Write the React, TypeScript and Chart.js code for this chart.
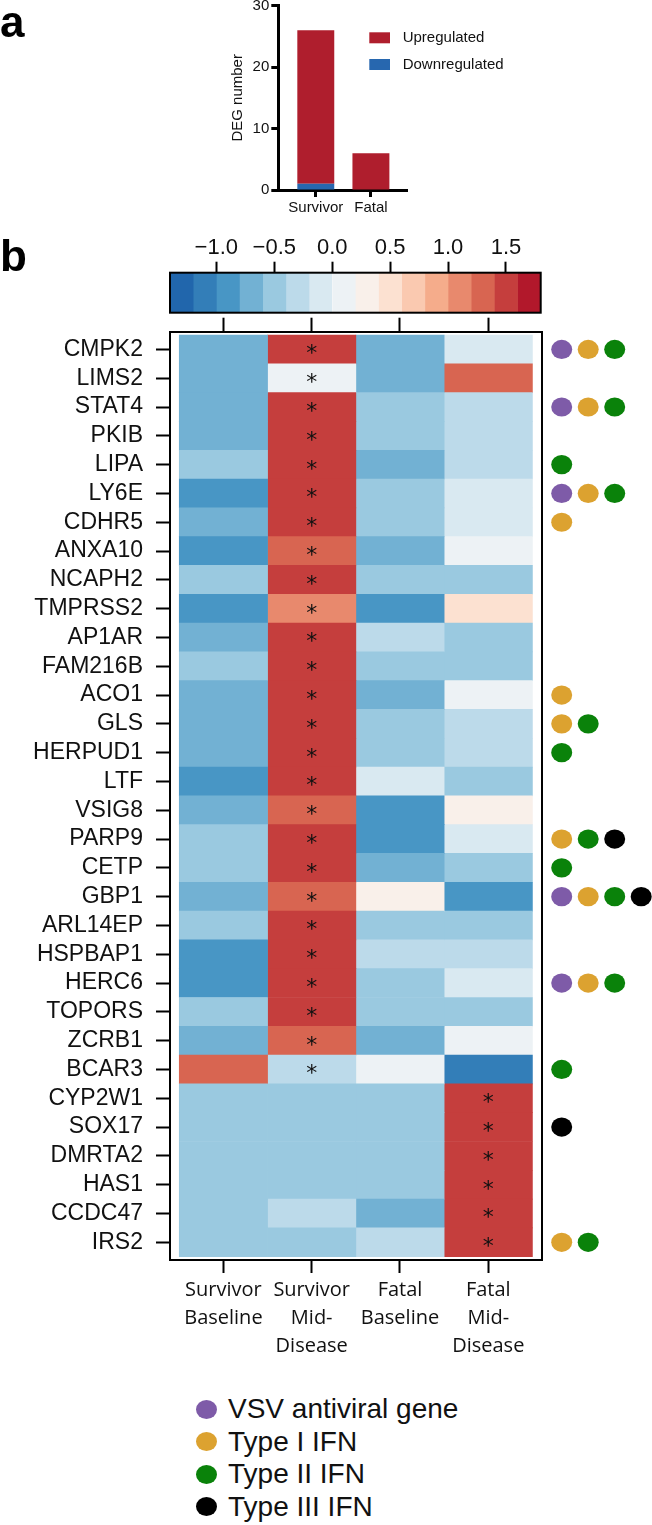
import React, { useEffect, useRef } from 'react';
import { Chart, registerables } from 'chart.js';

Chart.register(...registerables);

// ---------- Panel a data ----------
const degGroups = ['Survivor', 'Fatal'];
const degPositions = [1, 2];
const degUpregulated = [25, 6];
const degDownregulated = [1, 0];
const degTicks = [0, 10, 20, 30];

// ---------- Panel b data ----------
const genes = [
  'CMPK2', 'LIMS2', 'STAT4', 'PKIB', 'LIPA', 'LY6E', 'CDHR5', 'ANXA10',
  'NCAPH2', 'TMPRSS2', 'AP1AR', 'FAM216B', 'ACO1', 'GLS', 'HERPUD1', 'LTF',
  'VSIG8', 'PARP9', 'CETP', 'GBP1', 'ARL14EP', 'HSPBAP1', 'HERC6', 'TOPORS',
  'ZCRB1', 'BCAR3', 'CYP2W1', 'SOX17', 'DMRTA2', 'HAS1', 'CCDC47', 'IRS2',
];

const columnNames = [
  ['Survivor', 'Baseline'],
  ['Survivor', 'Mid-', 'Disease'],
  ['Fatal', 'Baseline'],
  ['Fatal', 'Mid-', 'Disease'],
];

const survivorBaseline = [
  -0.7, -0.7, -0.7, -0.7, -0.5, -0.9, -0.7, -0.9, -0.5, -0.9, -0.7, -0.5, -0.7, -0.7, -0.7, -0.9,
  -0.7, -0.5, -0.5, -0.7, -0.5, -0.9, -0.9, -0.5, -0.7, 1.3, -0.5, -0.5, -0.5, -0.5, -0.5, -0.5,
];
const survivorMidDisease = [
  1.5, 0.1, 1.5, 1.5, 1.5, 1.5, 1.5, 1.3, 1.5, 1.1, 1.5, 1.5, 1.5, 1.5, 1.5, 1.5,
  1.3, 1.5, 1.5, 1.3, 1.5, 1.5, 1.5, 1.5, 1.3, -0.3, -0.5, -0.5, -0.5, -0.5, -0.3, -0.5,
];
const fatalBaseline = [
  -0.7, -0.7, -0.5, -0.5, -0.7, -0.5, -0.5, -0.7, -0.5, -0.9, -0.3, -0.5, -0.7, -0.5, -0.5, -0.1,
  -0.9, -0.9, -0.7, 0.3, -0.5, -0.3, -0.5, -0.5, -0.7, 0.1, -0.5, -0.5, -0.5, -0.5, -0.7, -0.3,
];
const fatalMidDisease = [
  -0.1, 1.3, -0.3, -0.3, -0.3, -0.1, -0.1, 0.1, -0.5, 0.5, -0.5, -0.5, 0.1, -0.3, -0.3, -0.5,
  0.3, -0.1, -0.5, -0.9, -0.5, -0.3, -0.1, -0.5, 0.1, -1.1, 1.5, 1.5, 1.5, 1.5, 1.5, 1.5,
];

// column index (0..3) carrying the significance star for each gene
const significantColumn = [
  1, 1, 1, 1, 1, 1, 1, 1, 1, 1, 1, 1, 1, 1, 1, 1,
  1, 1, 1, 1, 1, 1, 1, 1, 1, 1, 3, 3, 3, 3, 3, 3,
];

// gene annotation categories
const geneAnnotations = [
  ['vsv', 't1', 't2'], [], ['vsv', 't1', 't2'], [], ['t2'], ['vsv', 't1', 't2'], ['t1'], [],
  [], [], [], [], ['t1'], ['t1', 't2'], ['t2'], [],
  [], ['t1', 't2', 't3'], ['t2'], ['vsv', 't1', 't2', 't3'], [], [], ['vsv', 't1', 't2'], [],
  [], ['t2'], [], ['t3'], [], [], [], ['t1', 't2'],
];

const annotationKeys = ['vsv', 't1', 't2', 't3'];
const annotationLabels = ['VSV antiviral gene', 'Type I IFN', 'Type II IFN', 'Type III IFN'];
const annotationColors = ['#7E5BA8', '#DCA230', '#0A820A', '#000000'];

// colour scale
const colorBreaks = [-1.4, -1.2, -1.0, -0.8, -0.6, -0.4, -0.2, 0, 0.2, 0.4, 0.6, 0.8, 1.0, 1.2, 1.4, 1.6, 1.8];
const palette = [
  '#2166AC', '#337EB8', '#4896C5', '#72B1D3', '#9AC9E0', '#BCDAEA', '#D9E9F1', '#EDF2F5',
  '#F9F0EA', '#FCE1D1', '#FAC9B0', '#F5AC8B', '#E8896D', '#D86551', '#C53E3D', '#B2182B',
];
const colorbarTicks = [-1.0, -0.5, 0.0, 0.5, 1.0, 1.5];

const columnValues = [survivorBaseline, survivorMidDisease, fatalBaseline, fatalMidDisease];

function colorFor(v: number): string {
  for (let i = 0; i < palette.length; i++) {
    if (v >= colorBreaks[i] - 1e-9 && v < colorBreaks[i + 1] - 1e-9) return palette[i];
  }
  return v < colorBreaks[0] ? palette[0] : palette[palette.length - 1];
}

const SANS = '"Liberation Sans", Arial, sans-serif';
const OPEN = '"Open Sans", sans-serif';

// ---------- plugins ----------
const degLegendPlugin = {
  id: 'degLegend',
  afterDraw(chart: any) {
    const { ctx, chartArea } = chart;
    const items = [...chart.data.datasets].reverse();
    ctx.save();
    ctx.font = `15px ${SANS}`;
    ctx.textBaseline = 'middle';
    ctx.textAlign = 'left';
    items.forEach((ds: any, k: number) => {
      const top = chartArea.top + 26.6 + k * 26.7;
      ctx.fillStyle = ds.backgroundColor;
      ctx.fillRect(chartArea.left + 91, top, 20.7, 11);
      ctx.fillStyle = '#111';
      ctx.fillText(ds.label, chartArea.left + 124.4, top + 5.5);
    });
    ctx.restore();
  },
};

const framePlugin = {
  id: 'frame',
  afterDatasetsDraw(chart: any) {
    const { ctx, chartArea } = chart;
    ctx.save();
    ctx.strokeStyle = '#000';
    ctx.lineWidth = 2;
    ctx.strokeRect(chartArea.left, chartArea.top, chartArea.right - chartArea.left, chartArea.bottom - chartArea.top);
    ctx.restore();
  },
};

const starsPlugin = {
  id: 'stars',
  afterDatasetsDraw(chart: any) {
    const { ctx } = chart;
    const xs = chart.scales.x;
    const ys = chart.scales.y;
    ctx.save();
    ctx.font = '22px "DejaVu Sans"';
    ctx.fillStyle = '#111';
    ctx.textAlign = 'center';
    ctx.textBaseline = 'alphabetic';
    const m = ctx.measureText('*');
    const shift = (m.actualBoundingBoxAscent - m.actualBoundingBoxDescent) / 2;
    significantColumn.forEach((c, r) => {
      const cx = xs.getPixelForValue(c + 0.5);
      const cy = ys.getPixelForValue(r + 0.5);
      ctx.fillText('*', cx, cy + shift);
    });
    ctx.restore();
  },
};

const dotsPlugin = {
  id: 'dots',
  afterDraw(chart: any) {
    const { ctx, chartArea } = chart;
    const ys = chart.scales.y;
    ctx.save();
    geneAnnotations.forEach((cats, r) => {
      const cy = ys.getPixelForValue(r + 0.5);
      cats.forEach((cat, k) => {
        const idx = annotationKeys.indexOf(cat);
        ctx.fillStyle = annotationColors[idx];
        ctx.beginPath();
        ctx.ellipse(chartArea.right + 20 + k * 26.5, cy, 10.5, 9.6, 0, 0, Math.PI * 2);
        ctx.fill();
      });
    });
    ctx.restore();
  },
};

export default function App() {
  const barRef = useRef<HTMLCanvasElement>(null);
  const cbarRef = useRef<HTMLCanvasElement>(null);
  const heatRef = useRef<HTMLCanvasElement>(null);

  useEffect(() => {
    const charts: Chart[] = [];

    // ---- Panel a: stacked bar ----
    charts.push(
      new Chart(barRef.current as HTMLCanvasElement, {
        type: 'bar',
        data: {
          datasets: [
            {
              label: 'Downregulated',
              data: degPositions.map((x, i) => ({ x, y: degDownregulated[i] })),
              backgroundColor: '#2767AF',
              barPercentage: 0.67,
              categoryPercentage: 1,
              borderWidth: 0,
            },
            {
              label: 'Upregulated',
              data: degPositions.map((x, i) => ({ x, y: degUpregulated[i] })),
              backgroundColor: '#AF1E2D',
              barPercentage: 0.67,
              categoryPercentage: 1,
              borderWidth: 0,
            },
          ],
        } as any,
        options: {
          animation: false,
          responsive: false,
          devicePixelRatio: 1,
          events: [],
          layout: { padding: { left: 225.3, right: 652 - 407.3, top: 15.7, bottom: 5 } },
          plugins: { legend: { display: false }, tooltip: { enabled: false } },
          scales: {
            x: {
              type: 'linear',
              stacked: true,
              offset: false,
              min: 0.32,
              max: 2.66,
              afterBuildTicks: (s: any) => {
                s.ticks = degPositions.map((v) => ({ value: v }));
              },
              afterFit: (s: any) => {
                s.height = 35;
              },
              ticks: {
                autoSkip: false,
                maxRotation: 0,
                padding: 2,
                color: '#111',
                font: { family: SANS, size: 15 },
                callback: (_v: any, i: number) => degGroups[i],
              },
              grid: { offset: false, drawOnChartArea: false, drawTicks: true, tickLength: 7, tickWidth: 3, tickColor: '#000' },
              border: { display: true, color: '#000', width: 3 },
            },
            y: {
              type: 'linear',
              stacked: true,
              min: 0,
              max: 30,
              afterBuildTicks: (s: any) => {
                s.ticks = degTicks.map((v) => ({ value: v }));
              },
              afterFit: (s: any) => {
                s.width = 53;
              },
              ticks: {
                autoSkip: false,
                padding: 2,
                color: '#111',
                font: { family: SANS, size: 15 },
              },
              title: {
                display: true,
                text: 'DEG number',
                color: '#111',
                font: { family: SANS, size: 15 },
                padding: { top: 4, bottom: 0 },
              },
              grid: { drawOnChartArea: false, drawTicks: true, tickLength: 7, tickWidth: 3, tickColor: '#000' },
              border: { display: true, color: '#000', width: 3 },
            },
          },
        } as any,
        plugins: [degLegendPlugin],
      })
    );

    // ---- Colour bar ----
    charts.push(
      new Chart(cbarRef.current as HTMLCanvasElement, {
        type: 'bar',
        data: {
          labels: [''],
          datasets: palette.map((c, i) => ({
            label: String(colorBreaks[i]),
            data: [[colorBreaks[i], colorBreaks[i + 1]]],
            backgroundColor: c,
            borderWidth: 0,
            grouped: false,
            barPercentage: 1,
            categoryPercentage: 1,
          })),
        } as any,
        options: {
          indexAxis: 'y',
          animation: false,
          responsive: false,
          devicePixelRatio: 1,
          events: [],
          layout: { padding: { left: 20, right: 19.3, top: 0, bottom: 12.3 } },
          plugins: { legend: { display: false }, tooltip: { enabled: false } },
          scales: {
            x: {
              type: 'linear',
              position: 'top',
              min: colorBreaks[0],
              max: colorBreaks[colorBreaks.length - 1],
              afterBuildTicks: (s: any) => {
                s.ticks = colorbarTicks.map((v) => ({ value: v }));
              },
              afterFit: (s: any) => {
                s.height = 47.7;
              },
              ticks: {
                autoSkip: false,
                maxRotation: 0,
                padding: 1,
                color: '#111',
                font: { family: SANS, size: 22 },
                callback: (v: any) => (Number(v) < 0 ? '\u2212' + Math.abs(Number(v)).toFixed(1) : Number(v).toFixed(1)),
              },
              grid: { drawOnChartArea: false, drawTicks: true, tickLength: 11, tickWidth: 2, tickColor: '#000' },
              border: { display: false },
            },
            y: { display: false },
          },
        } as any,
        plugins: [framePlugin],
      })
    );

    // ---- Heatmap ----
    charts.push(
      new Chart(heatRef.current as HTMLCanvasElement, {
        type: 'bar',
        data: {
          datasets: columnValues.map((vals, c) => ({
            label: columnNames[c].join(' '),
            data: vals.map((_v, r) => ({ x: [c, c + 1], y: r + 0.5 })),
            backgroundColor: vals.map(colorFor),
            borderWidth: 0,
            grouped: false,
            barPercentage: 1,
            categoryPercentage: 1,
          })),
        } as any,
        options: {
          indexAxis: 'y',
          animation: false,
          responsive: false,
          devicePixelRatio: 1,
          events: [],
          layout: { padding: { left: 0, right: 652 - 541.7, top: 0, bottom: 0 } },
          plugins: { legend: { display: false }, tooltip: { enabled: false } },
          scales: {
            x: {
              type: 'linear',
              position: 'bottom',
              offset: false,
              min: -0.105,
              max: 4.105,
              afterBuildTicks: (s: any) => {
                s.ticks = columnNames.map((_n, i) => ({ value: i + 0.5 }));
              },
              afterFit: (s: any) => {
                s.height = 120;
              },
              ticks: {
                autoSkip: false,
                maxRotation: 0,
                padding: 3,
                color: '#111',
                font: { family: OPEN, size: 20, lineHeight: 1.4 },
                callback: (_v: any, i: number) => columnNames[i],
              },
              grid: { offset: false, drawOnChartArea: false, drawTicks: true, tickLength: 13, tickWidth: 2, tickColor: '#000' },
              border: { display: true, color: '#000', width: 2 },
            },
            x2: {
              type: 'linear',
              position: 'top',
              offset: false,
              min: -0.105,
              max: 4.105,
              afterBuildTicks: (s: any) => {
                s.ticks = columnNames.map((_n, i) => ({ value: i + 0.5 }));
              },
              afterFit: (s: any) => {
                s.height = 31.7;
              },
              ticks: { display: false },
              grid: { offset: false, drawOnChartArea: false, drawTicks: true, tickLength: 14, tickWidth: 2, tickColor: '#000' },
              border: { display: true, color: '#000', width: 2 },
            },
            y: {
              type: 'linear',
              reverse: true,
              offset: false,
              min: -0.115,
              max: 32.115,
              afterBuildTicks: (s: any) => {
                s.ticks = genes.map((_g, i) => ({ value: i + 0.5 }));
              },
              afterFit: (s: any) => {
                s.width = 170;
              },
              ticks: {
                autoSkip: false,
                padding: 13,
                color: '#111',
                font: { family: SANS, size: 23 },
                callback: (_v: any, i: number) => genes[i],
              },
              grid: { offset: false, drawOnChartArea: false, drawTicks: true, tickLength: 14, tickWidth: 2, tickColor: '#000' },
              border: { display: true, color: '#000', width: 2 },
            },
            y2: {
              type: 'linear',
              position: 'right',
              reverse: true,
              offset: false,
              min: -0.115,
              max: 32.115,
              afterFit: (s: any) => {
                s.width = 0;
              },
              ticks: { display: false },
              grid: { display: false },
              border: { display: true, color: '#000', width: 2 },
            },
          },
        } as any,
        plugins: [starsPlugin, dotsPlugin],
      })
    );

    return () => {
      charts.forEach((c) => c.destroy());
    };
  }, []);

  const legendCenters = [1409, 1441.7, 1474, 1506.7];

  return (
    <div
      style={{
        position: 'absolute',
        left: 0,
        top: 0,
        width: 652,
        height: 1525,
        background: '#fff',
        overflow: 'hidden',
      }}
    >
      <canvas ref={barRef} width={652} height={240} style={{ position: 'absolute', left: 0, top: -10 }} />
      <canvas ref={cbarRef} width={410} height={100} style={{ position: 'absolute', left: 150, top: 225 }} />
      <canvas ref={heatRef} width={652} height={1080} style={{ position: 'absolute', left: 0, top: 300 }} />

      <div
        style={{
          position: 'absolute',
          left: 0,
          top: 0,
          font: `bold 44px ${SANS}`,
          lineHeight: '44px',
          color: '#000',
        }}
      >
        a
      </div>
      <div
        style={{
          position: 'absolute',
          left: 0,
          top: 234,
          font: `bold 44px ${SANS}`,
          lineHeight: '44px',
          color: '#000',
        }}
      >
        b
      </div>

      {annotationLabels.map((label, i) => (
        <div
          key={label}
          style={{
            position: 'absolute',
            left: 196,
            top: legendCenters[i] - 16,
            height: 32,
            display: 'flex',
            alignItems: 'center',
            whiteSpace: 'nowrap',
          }}
        >
          <div
            style={{
              width: 21,
              height: 19,
              borderRadius: '50%',
              background: annotationColors[i],
              flex: '0 0 auto',
            }}
          />
          <span
            style={{
              marginLeft: 11,
              font: `28px ${SANS}`,
              lineHeight: '32px',
              color: '#111',
            }}
          >
            {label}
          </span>
        </div>
      ))}
    </div>
  );
}
